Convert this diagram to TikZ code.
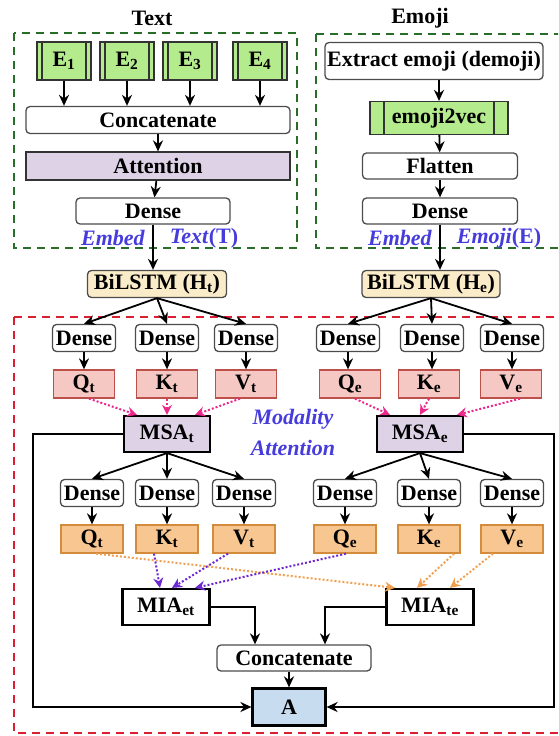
\documentclass[tikz,border=0pt]{standalone}
\usepackage{fontspec}
\setmainfont{Liberation Serif}
\usetikzlibrary{arrows.meta}
\definecolor{gdash}{RGB}{40,110,40}
\definecolor{rdash}{RGB}{220,30,50}
\definecolor{egreen}{RGB}{180,235,140}
\definecolor{lilac}{RGB}{221,210,230}
\definecolor{beige}{RGB}{250,236,200}
\definecolor{pinkf}{RGB}{245,200,195}
\definecolor{pinkd}{RGB}{190,80,75}
\definecolor{orangef}{RGB}{248,198,145}
\definecolor{oranged}{RGB}{210,140,60}
\definecolor{lblue}{RGB}{200,220,240}
\definecolor{embblue}{RGB}{70,60,220}
\definecolor{magarr}{RGB}{235,40,140}
\definecolor{purarr}{RGB}{110,40,210}
\definecolor{orarr}{RGB}{240,160,80}
\begin{document}
\begin{tikzpicture}[x=1pt,y=-1pt,
  every node/.style={font=\fontsize{22}{25}\selectfont\bfseries, inner sep=0pt},
  arr/.style={line width=1.8pt, -{Stealth[length=11pt,width=10pt]}},
  dotarr/.style={line width=2pt, dash pattern=on 2pt off 2pt, draw=#1, -{Stealth[length=10pt,width=10pt,fill=#1]}},
  rbox/.style={draw=black!70, line width=1.3pt, rounded corners=4pt, fill=white, minimum height=26pt},
  procbox/.style={draw=black!80, line width=1.2pt, fill=egreen,
    path picture={\draw[line width=1.2pt] ([xshift=#1]path picture bounding box.south west) -- ([xshift=#1]path picture bounding box.north west)
      ([xshift=-#1]path picture bounding box.south east) -- ([xshift=-#1]path picture bounding box.north east);}},
  dense/.style={rbox, minimum width=63pt, minimum height=27pt},
  pinkbox/.style={draw=pinkd, line width=1.3pt, fill=pinkf, minimum width=61pt, minimum height=28pt},
  orbox/.style={draw=oranged, line width=1.3pt, fill=orangef, minimum width=62pt, minimum height=28pt},
  msabox/.style={draw=black, line width=2.2pt, fill=lilac, minimum width=86pt, minimum height=36pt},
  miabox/.style={draw=black, line width=2.2pt, fill=white, minimum width=87pt, minimum height=36pt},
  embtext/.style={text=embblue}
]
\useasboundingbox (0,0) rectangle (558,736);
\clip (0,0) rectangle (558,736);

% frames
\draw[gdash, line width=1.8pt, dash pattern=on 8pt off 6pt] (14,33) rectangle (297,248);
\draw[gdash, line width=1.8pt, dash pattern=on 8pt off 6pt] (316,34) rectangle (575,248);
\draw[rdash, line width=1.8pt, dash pattern=on 8pt off 6pt] (14,317) rectangle (575,733);

% text branch
\node (ttitle) at (152,18) {Text};
\foreach \x/\i in {64/1,127/2,190/3,260/4}
  \node[procbox=5pt, minimum width=54pt, minimum height=38pt] (e\i) at (\x,61) {E\textsubscript{\i}};
\node[rbox, minimum width=264pt, minimum height=27pt] (concatt) at (158,120) {Concatenate};
\node[draw=black!80, line width=1.2pt, fill=lilac, minimum width=264pt, minimum height=28pt] (attn) at (158,166) {Attention};
\node[rbox, minimum width=154pt] (denset) at (153,211) {Dense};
\node[embtext] (embedt) at (113,238) {\textit{Embed}};
\node[embtext] (textt) at (204,238) {\textit{Text}(T)};
\node[rbox, fill=beige, minimum width=139pt, minimum height=27pt] (bilstmt) at (157,284) {BiLSTM (H\textsubscript{t})};
\foreach \i in {1,...,4}
  \draw[arr] (e\i.south) -- (e\i.south |- concatt.north);
\draw[arr] (concatt) -- (attn);
\draw[arr] (attn) -- (denset);
\draw[arr] (denset.south) -- (denset.south |- bilstmt.north);

% emoji branch
\node (etitle) at (420,18) {Emoji};
\node[rbox, minimum width=218pt, minimum height=37pt] (extract) at (434,61) {Extract emoji (demoji)};
\node[procbox=14pt, minimum width=138pt, minimum height=33pt] (e2v) at (439,118) {emoji2vec};
\node[rbox, minimum width=155pt] (flatten) at (440,166) {Flatten};
\node[rbox, minimum width=155pt] (densee) at (440,211) {Dense};
\node[embtext] (embede) at (400,238) {\textit{Embed}};
\node[embtext] (emojie) at (499,238) {\textit{Emoji}(E)};
\node[rbox, fill=beige, minimum width=138pt, minimum height=27pt] (bilstme) at (431,284) {BiLSTM (H\textsubscript{e})};
\draw[arr] (extract.south -| e2v) -- (e2v.north);
\draw[arr] (e2v) -- (flatten);
\draw[arr] (flatten) -- (densee);
\draw[arr] (densee.south) -- (densee.south |- bilstme.north);

% self attention
\foreach \x/\n/\s in {84/q/Q,167/k/K,246/v/V} {
  \node[dense] (td\n) at (\x,338) {Dense};
  \node[pinkbox] (t\n) at (\x,384) {\s\textsubscript{t}};
  \draw[arr] (bilstmt.south) -- (td\n.north);
  \draw[arr] (td\n) -- (t\n);
}
\foreach \x/\y/\n/\s in {348/350/q/Q,432/429/k/K,512/511/v/V} {
  \node[dense] (ed\n) at (\x,338) {Dense};
  \node[pinkbox] (e\n) at (\y,384) {\s\textsubscript{e}};
  \draw[arr] (bilstme.south) -- (ed\n.north);
  \draw[arr] (ed\n.south) -- (ed\n.south |- e\n.north);
}
\node[msabox] (msat) at (167,434) {MSA\textsubscript{t}};
\node[msabox] (msae) at (420,434) {MSA\textsubscript{e}};
\node[embtext] (modality) at (293,419) {\textit{Modality}};
\node[embtext] (attention) at (293,448) {\textit{Attention}};
\draw[dotarr=magarr] ([xshift=5pt]tq.south) -- ([xshift=-30pt]msat.north);
\draw[dotarr=magarr] (tk.south) -- (msat.north);
\draw[dotarr=magarr] ([xshift=-6pt]tv.south) -- ([xshift=28pt]msat.north);
\draw[dotarr=magarr] ([xshift=5pt]eq.south) -- ([xshift=-30pt]msae.north);
\draw[dotarr=magarr] (ek.south) -- (msae.north);
\draw[dotarr=magarr] ([xshift=9pt]ev.south) -- ([xshift=37pt]msae.north);

% second dense layer
\foreach \x/\n/\s in {92/q/Q,167/k/K,244/v/V} {
  \node[dense] (ltd\n) at (\x,493) {Dense};
  \node[orbox] (lt\n) at (\x,539) {\s\textsubscript{t}};
  \draw[arr] (msat.south) -- (ltd\n.north);
  \draw[arr] (ltd\n) -- (lt\n);
}
\foreach \x/\n/\s in {345/q/Q,429/k/K,512/v/V} {
  \node[dense] (led\n) at (\x,493) {Dense};
  \node[orbox] (le\n) at (\x,539) {\s\textsubscript{e}};
  \draw[arr] (msae.south) -- (led\n.north);
  \draw[arr] (led\n) -- (le\n);
}

% modality interaction
\node[miabox] (miaet) at (166,607) {MIA\textsubscript{et}};
\node[miabox] (miate) at (430,607) {MIA\textsubscript{te}};
\draw[dotarr=orarr] ([xshift=4pt]ltq.south) -- ([xshift=-35pt]miate.north);
\draw[dotarr=orarr] ([xshift=25pt]lek.south) -- ([xshift=-13pt]miate.north);
\draw[dotarr=orarr] ([xshift=-19pt]lev.south) -- ([xshift=20pt]miate.north);
\draw[dotarr=purarr] ([xshift=-13pt]ltk.south) -- ([xshift=-6pt]miaet.north);
\draw[dotarr=purarr] ([xshift=-16pt]ltv.south) -- ([xshift=6pt]miaet.north);
\draw[dotarr=purarr] ([xshift=1pt]leq.south) -- ([xshift=29pt]miaet.north);

\node[rbox, minimum width=154pt] (concatb) at (294,658) {Concatenate};
\node[draw=black, line width=2.2pt, fill=lblue, minimum width=73pt, minimum height=37pt] (outA) at (289,707) {A};
\coordinate (lft) at (33,0);
\coordinate (rgt) at (554,0);
\draw[arr] (miaet.east) -| ([xshift=-39pt]concatb.north);
\draw[arr] (miate.west) -| ([xshift=31pt]concatb.north);
\draw[arr] (concatb.south -| outA.north) -- (outA.north);
\draw[arr] (msat.west) -- (msat.west -| lft) |- (outA.west);
\draw[arr] (msae.east) -- (msae.east -| rgt) |- (outA.east);
\end{tikzpicture}
\end{document}
